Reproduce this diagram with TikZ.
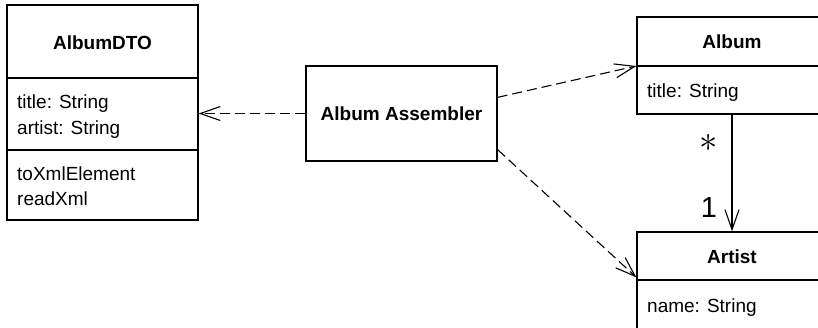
\documentclass[tikz,border=0pt]{standalone}
\usepackage{fontspec}
\setmainfont{Liberation Sans}
\usepackage{graphicx}
\usetikzlibrary{arrows.meta,calc}
\begin{document}
\begin{tikzpicture}[x=1pt,y=-1pt,
  box/.style={draw, line width=1.3pt, rectangle, inner sep=0pt},
  title/.style={font=\fontsize{19}{24}\selectfont\bfseries},
  member/.style={font=\fontsize{19}{24}\selectfont, anchor=base west, inner sep=0pt},
  dep/.style={line width=1.1pt, dash pattern=on 10pt off 5pt, -{Straight Barb[length=20pt,width=14pt,line width=1.1pt]}},
  assoc/.style={line width=1.1pt, -{Straight Barb[length=20pt,width=14pt,line width=1.1pt]}},
  mult/.style={inner sep=0pt}
]
\useasboundingbox (0,0) rectangle (818,327);
\clip (0,0) rectangle (818,327);
\fill[white] (0,0) rectangle (818,327);

% AlbumDTO
\node[box, minimum width=191pt, minimum height=215pt] (dto) at (102.5,112.5) {};
\draw[line width=1.3pt] (dto.west |- 0,78) -- (dto.east |- 0,78);
\draw[line width=1.3pt] (dto.west |- 0,150) -- (dto.east |- 0,150);
\node[title] (dtoname) at (102.5,43) {AlbumDTO};
\node[member] (dtoa1) at (17,108) {title: String};
\node[member] (dtoa2) at (17,134) {artist: String};
\node[member] (dtom1) at (17,180) {toXmlElement};
\node[member] (dtom2) at (17,205) {readXml};

% Album Assembler
\node[box, minimum width=191pt, minimum height=95pt, title] (asm) at (401.5,113.5) {Album Assembler};

% Album
\node[box, minimum width=190pt, minimum height=97pt] (album) at (732,65.5) {};
\draw[line width=1.3pt] (album.west |- 0,66) -- (album.east |- 0,66);
\node[title] (albumname) at (732,42) {Album};
\node[member] (albuma1) at (647,97) {title: String};

% Artist
\node[box, minimum width=190pt, minimum height=118pt] (artist) at (732,291) {};
\draw[line width=1.3pt] (artist.west |- 0,280) -- (artist.east |- 0,280);
\node[title] (artistname) at (732,257) {Artist};
\node[member] (artista1) at (647,312) {name: String};

% connectors
\draw[dep] (asm.west) -- (dto.east |- asm.west);
\draw[dep] ($(asm.north east)+(0,32)$) -- (album.west |- 0,66);
\draw[dep] ($(asm.south east)+(0,-12)$) -- ($(artist.north west)+(0,46)$);
\draw[assoc] (album.south) -- (artist.north);

\node[mult] (star) at (709,143) {\resizebox{!}{17pt}{$\ast$}};
\node[mult, font=\fontsize{29}{29}\selectfont] (one) at (709,207.5) {1};
\end{tikzpicture}
\end{document}
